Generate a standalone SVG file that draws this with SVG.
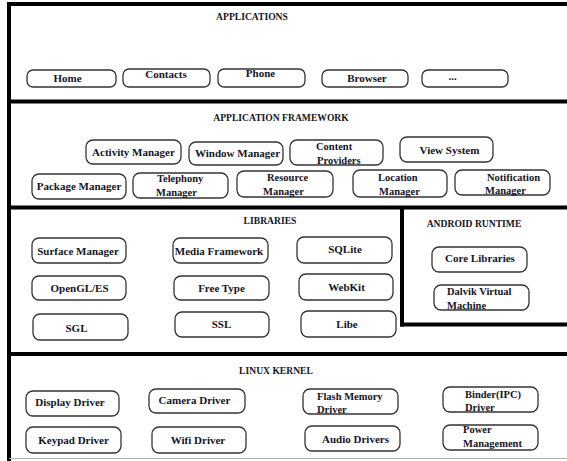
<svg xmlns="http://www.w3.org/2000/svg" width="567" height="461" viewBox="0 0 567 461">
<style>
.frame{stroke:#000;stroke-width:4;fill:none}
.box{fill:#fff;stroke:#333;stroke-width:1.3}
text{font-weight:bold;fill:#14141f}
.t{font-size:11px;text-anchor:middle}
.h{font-size:9.6px;text-anchor:middle}
.m{font-size:10.5px}
</style>
<rect width="567" height="461" fill="#fff"/>
<g id="frame">
<line class="frame" x1="9" y1="2" x2="9" y2="461" stroke-width="3.5"/>
<line class="frame" x1="7" y1="4" x2="567" y2="4"/>
<line class="frame" x1="7" y1="101.5" x2="567" y2="101.5"/>
<line class="frame" x1="7" y1="207.5" x2="567" y2="207.5"/>
<line class="frame" x1="7" y1="354" x2="567" y2="354"/>
<line class="frame" x1="402" y1="207" x2="402" y2="326.5" stroke-width="3.5"/>
<line class="frame" x1="400" y1="324.5" x2="567" y2="324.5"/>
<line x1="9" y1="458.5" x2="567" y2="458.5" stroke="#b0b0b0" stroke-width="1"/>
</g>
<g font-family="'Liberation Serif', 'DejaVu Serif', serif">
<g id="titles">
<text class="h" x="252" y="20">APPLICATIONS</text>
<text class="h" x="281" y="121">APPLICATION FRAMEWORK</text>
<text class="h" x="270" y="224">LIBRARIES</text>
<text class="h" x="474" y="227">ANDROID RUNTIME</text>
<text class="h" x="276" y="374">LINUX KERNEL</text>
</g>
<g id="applications">
<g id="home"><rect class="box" x="27" y="70" width="89" height="17" rx="6"/><text class="t" x="67.5" y="82">Home</text></g>
<g id="contacts"><rect class="box" x="123" y="69" width="87" height="18" rx="6"/><text class="t" x="166" y="78">Contacts</text></g>
<g id="phone"><rect class="box" x="218" y="69" width="87" height="18" rx="6"/><text class="t" x="260.5" y="77">Phone</text></g>
<g id="browser"><rect class="box" x="322" y="70" width="86" height="17" rx="6"/><text class="t" x="367" y="82">Browser</text></g>
<g id="more"><rect class="box" x="422" y="70" width="86" height="17" rx="6"/><text class="t" x="452.5" y="80">...</text></g>
</g>
<g id="framework">
<g id="activity-manager"><rect class="box" x="86" y="140" width="95" height="24" rx="7"/><text class="t" x="133.5" y="156" font-size="11.5">Activity Manager</text></g>
<g id="window-manager"><rect class="box" x="189" y="142" width="94" height="23" rx="7"/><text class="t" x="237.5" y="157" font-size="11.5">Window Manager</text></g>
<g id="content-providers"><rect class="box" x="290" y="140" width="93" height="25" rx="7"/><text class="m" x="316" y="150">Content</text><text class="m" x="317" y="163.5">Providers</text></g>
<g id="view-system"><rect class="box" x="400" y="137" width="93" height="25" rx="7"/><text class="t" x="449.5" y="154">View System</text></g>
<g id="package-manager"><rect class="box" x="32" y="174" width="94" height="25" rx="7"/><text class="t" x="79" y="190" font-size="11.5">Package Manager</text></g>
<g id="telephony-manager"><rect class="box" x="133" y="173" width="95" height="25" rx="7"/><text class="m" x="157" y="182">Telephony</text><text class="m" x="156" y="196">Manager</text></g>
<g id="resource-manager"><rect class="box" x="237" y="171" width="96" height="26" rx="7"/><text class="m" x="267" y="180.5">Resource</text><text class="m" x="263" y="195">Manager</text></g>
<g id="location-manager"><rect class="box" x="353" y="170" width="94" height="27" rx="7"/><text class="m" x="378" y="181">Location</text><text class="m" x="379" y="195">Manager</text></g>
<g id="notification-manager"><rect class="box" x="455" y="170" width="95" height="25" rx="7"/><text class="m" x="487" y="181">Notification</text><text class="m" x="485" y="194">Manager</text></g>
</g>
<g id="libraries">
<g id="surface-manager"><rect class="box" x="32" y="238" width="94" height="25" rx="7"/><text class="t" x="78" y="255">Surface Manager</text></g>
<g id="media-framework"><rect class="box" x="173" y="238" width="95" height="25" rx="7"/><text class="t" x="219" y="255">Media Framework</text></g>
<g id="sqlite"><rect class="box" x="297" y="237" width="95" height="26" rx="7"/><text class="t" x="345" y="253">SQLite</text></g>
<g id="opengl-es"><rect class="box" x="32" y="276" width="94" height="24" rx="7"/><text class="t" x="79.5" y="292">OpenGL/ES</text></g>
<g id="free-type"><rect class="box" x="174" y="276" width="95" height="24" rx="7"/><text class="t" x="221.5" y="292">Free Type</text></g>
<g id="webkit"><rect class="box" x="299" y="274" width="94" height="26" rx="7"/><text class="t" x="346.5" y="291">WebKit</text></g>
<g id="sgl"><rect class="box" x="33" y="314" width="95" height="26" rx="7"/><text class="t" x="76.5" y="332">SGL</text></g>
<g id="ssl"><rect class="box" x="175" y="312" width="94" height="25" rx="7"/><text class="t" x="221.5" y="328">SSL</text></g>
<g id="libe"><rect class="box" x="301" y="311" width="95" height="26" rx="7"/><text class="t" x="347" y="328">Libe</text></g>
</g>
<g id="android-runtime">
<g id="core-libraries"><rect class="box" x="432" y="247" width="95" height="25" rx="7"/><text class="t" x="480" y="262">Core Libraries</text></g>
<g id="dalvik-vm"><rect class="box" x="434" y="285" width="95" height="25" rx="7"/><text class="m" x="447" y="295">Dalvik Virtual</text><text class="m" x="447" y="309">Machine</text></g>
</g>
<g id="linux-kernel">
<g id="display-driver"><rect class="box" x="26" y="391" width="93" height="25" rx="7"/><text class="t" x="70" y="406">Display Driver</text></g>
<g id="camera-driver"><rect class="box" x="149" y="389" width="96" height="24" rx="7"/><text class="t" x="194.5" y="404">Camera Driver</text></g>
<g id="flash-memory-driver"><rect class="box" x="303" y="389" width="95" height="25" rx="7"/><text class="m" x="317" y="400">Flash Memory</text><text class="m" x="317" y="413">Driver</text></g>
<g id="binder-driver"><rect class="box" x="443" y="387" width="95" height="25" rx="7"/><text class="m" x="465" y="398">Binder(IPC)</text><text class="m" x="465" y="410.5">Driver</text></g>
<g id="keypad-driver"><rect class="box" x="26" y="427" width="95" height="26" rx="7"/><text class="t" x="73.5" y="444">Keypad Driver</text></g>
<g id="wifi-driver"><rect class="box" x="152" y="427" width="94" height="26" rx="7"/><text class="t" x="198" y="444">Wifi Driver</text></g>
<g id="audio-drivers"><rect class="box" x="305" y="426" width="95" height="25" rx="7"/><text class="t" x="355.5" y="443">Audio Drivers</text></g>
<g id="power-management"><rect class="box" x="443" y="425" width="95" height="25" rx="7"/><text class="m" x="463" y="433">Power</text><text class="m" x="463" y="447">Management</text></g>
</g>
</g>
<g id="connectors"></g>
</svg>
